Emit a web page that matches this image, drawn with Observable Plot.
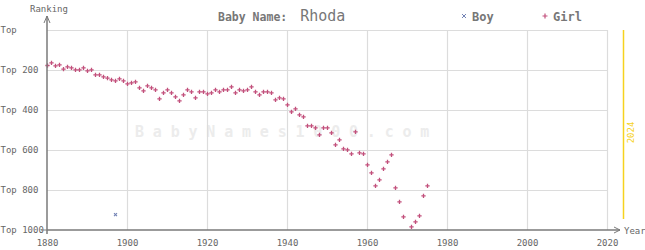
<!DOCTYPE html>
<html>
<head>
<meta charset="utf-8">
<script src="https://cdn.jsdelivr.net/npm/d3@7"></script>
<script src="https://cdn.jsdelivr.net/npm/@observablehq/plot@0.6"></script>
<style>
  html, body { margin: 0; padding: 0; background: #fff; }
  #chart svg { display: block; }
</style>
</head>
<body>
<div id="chart"></div>
<script>
const nameTitle = "Rhoda";
const girlYears = [1880,1881,1882,1883,1884,1885,1886,1887,1888,1889,1890,1891,1892,1893,1894,1895,1896,1897,1898,1899,
  1900,1901,1902,1903,1904,1905,1906,1907,1908,1909,1910,1911,1912,1913,1914,1915,1916,1917,1918,1919,
  1920,1921,1922,1923,1924,1925,1926,1927,1928,1929,1930,1931,1932,1933,1934,1935,1936,1937,1938,1939,
  1940,1941,1942,1943,1944,1945,1946,1947,1948,1949,1950,1951,1952,1953,1954,1955,1956,1957,1958,1959,
  1960,1961,1962,1963,1964,1965,1966,1967,1968,1969,1971,1972,1973,1974,1975];
const girlRanks = [175,162,177,172,193,182,187,197,197,187,202,197,222,222,232,238,247,252,242,252,
  267,262,257,287,302,277,287,297,342,312,297,312,332,352,322,297,307,337,307,307,
  317,312,297,307,297,297,282,312,297,302,297,282,307,322,307,307,312,347,337,342,
  372,407,392,422,432,477,477,487,522,487,487,512,572,547,592,597,617,507,612,617,
  672,712,777,747,692,657,622,787,857,932,982,957,927,827,777];
const boyYears = [1897];
const boyRanks = [921];
const xTicks = [1880,1900,1920,1940,1960,1980,2000,2020];
const xGrid = [1900,1920,1940,1960,1980,2000,2020];
const yTicks = [0,200,400,600,800,1000];
const yGrid = [0,200,400,600,800];
const yLabels = ["Top","Top 200","Top 400","Top 600","Top 800","Top 1000"];
const currentYear = [2024];
const watermark = "BabyNames1000.com";

const girl = girlYears.map((y, i) => ({year: y, rank: girlRanks[i]}));
const boy = boyYears.map((y, i) => ({year: y, rank: boyRanks[i]}));
const yTickData = yTicks.map((v, i) => ({v, label: yLabels[i]}));

const FONT = "DejaVu Sans Mono, monospace";
const GIRL = "#c2507c";
const BOY = "#7282b4";
const YELLOW = "#f6d21e";

const plot = Plot.plot({
  width: 645,
  height: 250,
  marginLeft: 47,
  marginRight: 38,
  marginTop: 30,
  marginBottom: 20,
  style: {fontFamily: FONT, fontSize: "8.5px", color: "#666", background: "#fff"},
  x: {domain: [1880, 2020], axis: null, label: null},
  y: {domain: [0, 1000], reverse: true, axis: null, label: null},
  marks: [
    Plot.ruleX(xGrid, {stroke: "#dcdcdc", strokeWidth: 1.2}),
    Plot.ruleY(yGrid, {stroke: "#dcdcdc", strokeWidth: 1.2}),
    Plot.ruleX(currentYear, {y1: 0, y2: 945, stroke: YELLOW, strokeWidth: 1.5}),
    Plot.text(currentYear, {x: d => d, frameAnchor: "middle", text: d => String(d), rotate: -90,
      dx: 8, dy: 2, fill: YELLOW, fontSize: 9, fontFamily: FONT}),
    Plot.axisX({ticks: xTicks, tickSize: 0, tickPadding: 9, tickFormat: d => String(d),
      label: null, fontSize: 9, fill: "#666"}),
    Plot.text(yTickData, {y: "v", text: "label", frameAnchor: "left", dx: -47, textAnchor: "start",
      fill: "#666", fontSize: 9}),
    Plot.dot(boy, {x: "year", y: "rank", symbol: "times", r: 1.5, stroke: BOY, strokeWidth: 1.1}),
    Plot.dot(girl, {x: "year", y: "rank", symbol: "plus", r: 1.5, stroke: GIRL, strokeWidth: 1.3})
  ]
});

document.getElementById("chart").appendChild(plot);

// Overlay: watermark, axes with arrows, title, legend
const svg = d3.select(plot);
const xs = plot.scale("x"), ys = plot.scale("y");
const x0 = xs.apply(1880), yBottom = ys.apply(1000);
const axisColor = "#7a7a7a";
const g = svg.append("g").attr("text-anchor", "start");
svg.insert("text", ":first-child").attr("x", 135).attr("y", 137).text(watermark)
  .attr("text-anchor", "start").attr("font-family", FONT).attr("font-size", 15)
  .attr("font-weight", "bold").attr("letter-spacing", "8.8px").attr("fill", "#ececec");
// left axis
g.append("line").attr("x1", x0).attr("x2", x0).attr("y1", yBottom + 4).attr("y2", 16)
  .attr("stroke", axisColor).attr("stroke-width", 1.5);
g.append("path").attr("d", `M${x0-3},${23} L${x0},${16} L${x0+3},${23}`)
  .attr("fill", "none").attr("stroke", axisColor).attr("stroke-width", 1);
g.append("line").attr("x1", x0 - 6).attr("x2", x0).attr("y1", yBottom).attr("y2", yBottom)
  .attr("stroke", axisColor).attr("stroke-width", 1);
// bottom axis
g.append("line").attr("x1", x0).attr("x2", 620).attr("y1", yBottom).attr("y2", yBottom)
  .attr("stroke", axisColor).attr("stroke-width", 1.5);
g.append("path").attr("d", `M${614},${yBottom-3} L${620},${yBottom} L${614},${yBottom+3}`)
  .attr("fill", "none").attr("stroke", axisColor).attr("stroke-width", 1);
// axis titles
g.append("text").attr("x", 30).attr("y", 12).text("Ranking")
  .attr("font-family", FONT).attr("font-size", 9).attr("fill", "#666");
g.append("text").attr("x", 624).attr("y", yBottom + 3.5).text("Year")
  .attr("font-family", FONT).attr("font-size", 9).attr("fill", "#666");
// title
const title = g.append("text").attr("x", 218).attr("y", 21).attr("font-family", FONT).attr("fill", "#777");
title.append("tspan").attr("font-size", 11.5).attr("font-weight", "bold").text("Baby Name: ");
title.append("tspan").attr("font-size", 15).attr("dx", 6).text(nameTitle);
// legend
g.append("path").attr("d", "M462,14 L466,18 M466,14 L462,18")
  .attr("fill", "none").attr("stroke", BOY).attr("stroke-width", 1);
g.append("text").attr("x", 472).attr("y", 21).text("Boy").attr("font-family", FONT)
  .attr("font-size", 12).attr("font-weight", "bold").attr("fill", "#777");
g.append("path").attr("d", "M542.5,16 L547.5,16 M545,13.5 L545,18.5")
  .attr("fill", "none").attr("stroke", GIRL).attr("stroke-width", 1.2);
g.append("text").attr("x", 553).attr("y", 21).text("Girl").attr("font-family", FONT)
  .attr("font-size", 12).attr("font-weight", "bold").attr("fill", "#777");
</script>
</body>
</html>
